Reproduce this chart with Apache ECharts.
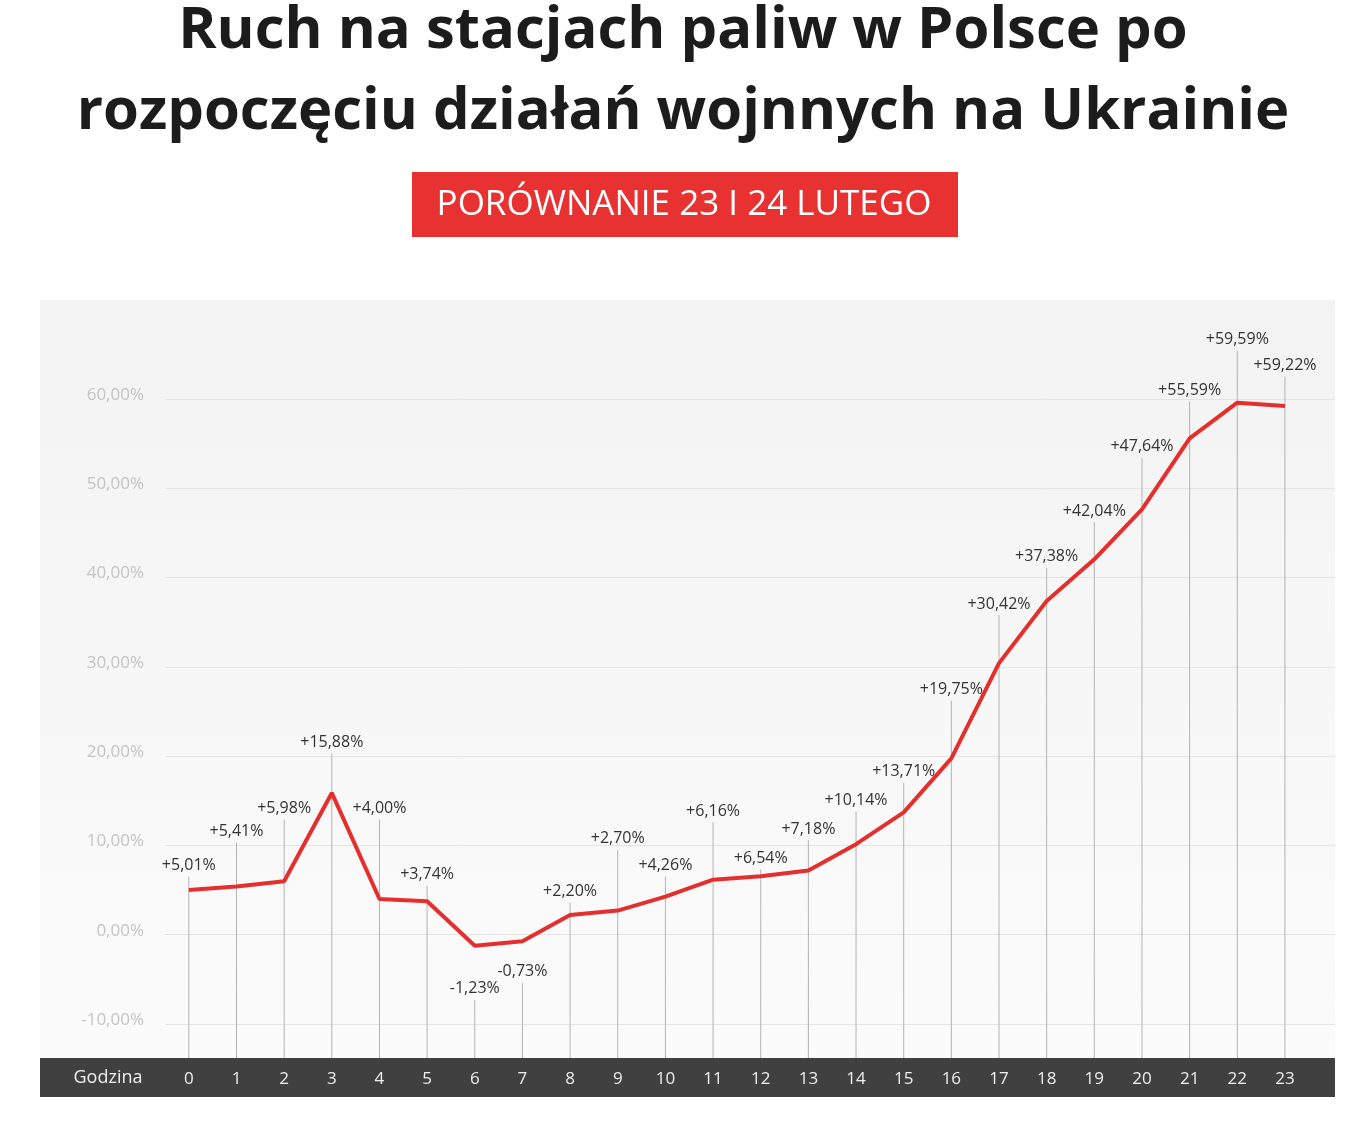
<!DOCTYPE html>
<html><head><meta charset="utf-8">
<script src="https://cdn.jsdelivr.net/npm/echarts@6/dist/echarts.min.js"></script>
<style>html,body{margin:0;padding:0;background:#fff}#c{width:1366px;height:1123px}</style>
</head><body><div id="c"></div>
<script>
const hours = [0,1,2,3,4,5,6,7,8,9,10,11,12,13,14,15,16,17,18,19,20,21,22,23];
const values = [5.01,5.41,5.98,15.88,4.00,3.74,-1.23,-0.73,2.20,2.70,4.26,6.16,6.54,7.18,10.14,13.71,19.75,30.42,37.38,42.04,47.64,55.59,59.59,59.22];
const calloutAt = [6.5,10.3,12.9,20.3,12.9,5.5,-7.3,-5.4,3.6,9.5,6.5,12.6,7.3,10.6,13.8,17.0,26.2,35.8,41.1,46.2,53.4,59.7,65.4,62.5];
const yTicks = [-10,0,10,20,30,40,50,60];
const titleText = 'Ruch na stacjach paliw w Polsce po\nrozpoczęciu działań wojnnych na Ukrainie';
const badgeText = 'PORÓWNANIE 23 I 24 LUTEGO';
const axisName = 'Godzina';

const FONT = '"Open Sans", sans-serif';
const fmt = v => (v >= 0 ? '+' : '-') + Math.abs(v).toFixed(2).replace('.', ',') + '%';
const fmtTick = v => v.toFixed(2).replace('.', ',') + '%';

const chart = echarts.init(document.getElementById('c'), null, {renderer: 'canvas'});
chart.setOption({
  backgroundColor: '#fff',
  animation: false,
  textStyle: {fontFamily: FONT},
  title: {
    text: titleText, left: 'center', top: -9, padding: 0,
    textStyle: {fontFamily: FONT, fontSize: 58, fontWeight: 'bold', color: '#1c1c1c', lineHeight: 81}
  },
  graphic: [
    {type: 'rect', z: -10, shape: {x: 40, y: 300, width: 1295, height: 758},
     style: {fill: new echarts.graphic.LinearGradient(0,0,0,1,[{offset:0,color:'#f3f3f3'},{offset:1,color:'#fbfbfb'}])}},
    {type: 'rect', z: -10, shape: {x: 40, y: 1058, width: 1295, height: 39}, style: {fill: '#404040'}},
    {type: 'text', z: 10, x: 108, y: 1078, style: {text: axisName, fill: '#eeeeee', font: '18px ' + FONT, align: 'center', verticalAlign: 'middle'}},
    {type: 'rect', z: 5, shape: {x: 412, y: 172, width: 546, height: 65}, style: {fill: '#e83232'}},
    {type: 'text', z: 6, x: 684, y: 205, style: {text: badgeText, fill: '#ffffff', font: '35px ' + FONT, align: 'center', verticalAlign: 'middle'}}
  ],
  grid: {left: 165, right: 31, top: 399, bottom: 99, containLabel: false},
  xAxis: {
    type: 'value', min: -0.5, max: 24.05,
    axisLine: {show: false}, axisTick: {show: false}, splitLine: {show: false},
    axisLabel: {customValues: hours, color: '#eeeeee', fontSize: 17, margin: 47, fontFamily: FONT}
  },
  yAxis: {
    type: 'value', min: -10, max: 60, interval: 10,
    axisLine: {show: false}, axisTick: {show: false},
    splitLine: {lineStyle: {color: '#e4e4e4', width: 1}},
    axisLabel: {formatter: fmtTick, color: '#c4c4c4', fontSize: 17, margin: 21, fontFamily: FONT,
      verticalAlign: 'bottom', lineHeight: 8, customValues: yTicks}
  },
  series: [
    {
      type: 'custom', z: 1, clip: false,
      data: hours.map((h, i) => [h, values[i], calloutAt[i]]),
      renderItem: (params, api) => {
        const x = api.value(0), v = api.value(1), a = api.value(2);
        const top = api.coord([x, a]);
        const bottom = api.coord([x, -10])[1] + 34;
        return {type: 'group', children: [
          {type: 'line', shape: {x1: top[0], y1: top[1], x2: top[0], y2: bottom},
           style: {stroke: '#b3b3b3', lineWidth: 1}},
          {type: 'text', x: top[0], y: top[1] - 11,
           style: {text: fmt(v), fill: '#333333', font: '16px ' + FONT, align: 'center', verticalAlign: 'middle'}}
        ]};
      }
    },
    {
      type: 'line', z: 3, data: hours.map((h, i) => [h, values[i]]),
      showSymbol: false, lineStyle: {color: '#e3302f', width: 4}, clip: false
    }
  ]
});
</script></body></html>
